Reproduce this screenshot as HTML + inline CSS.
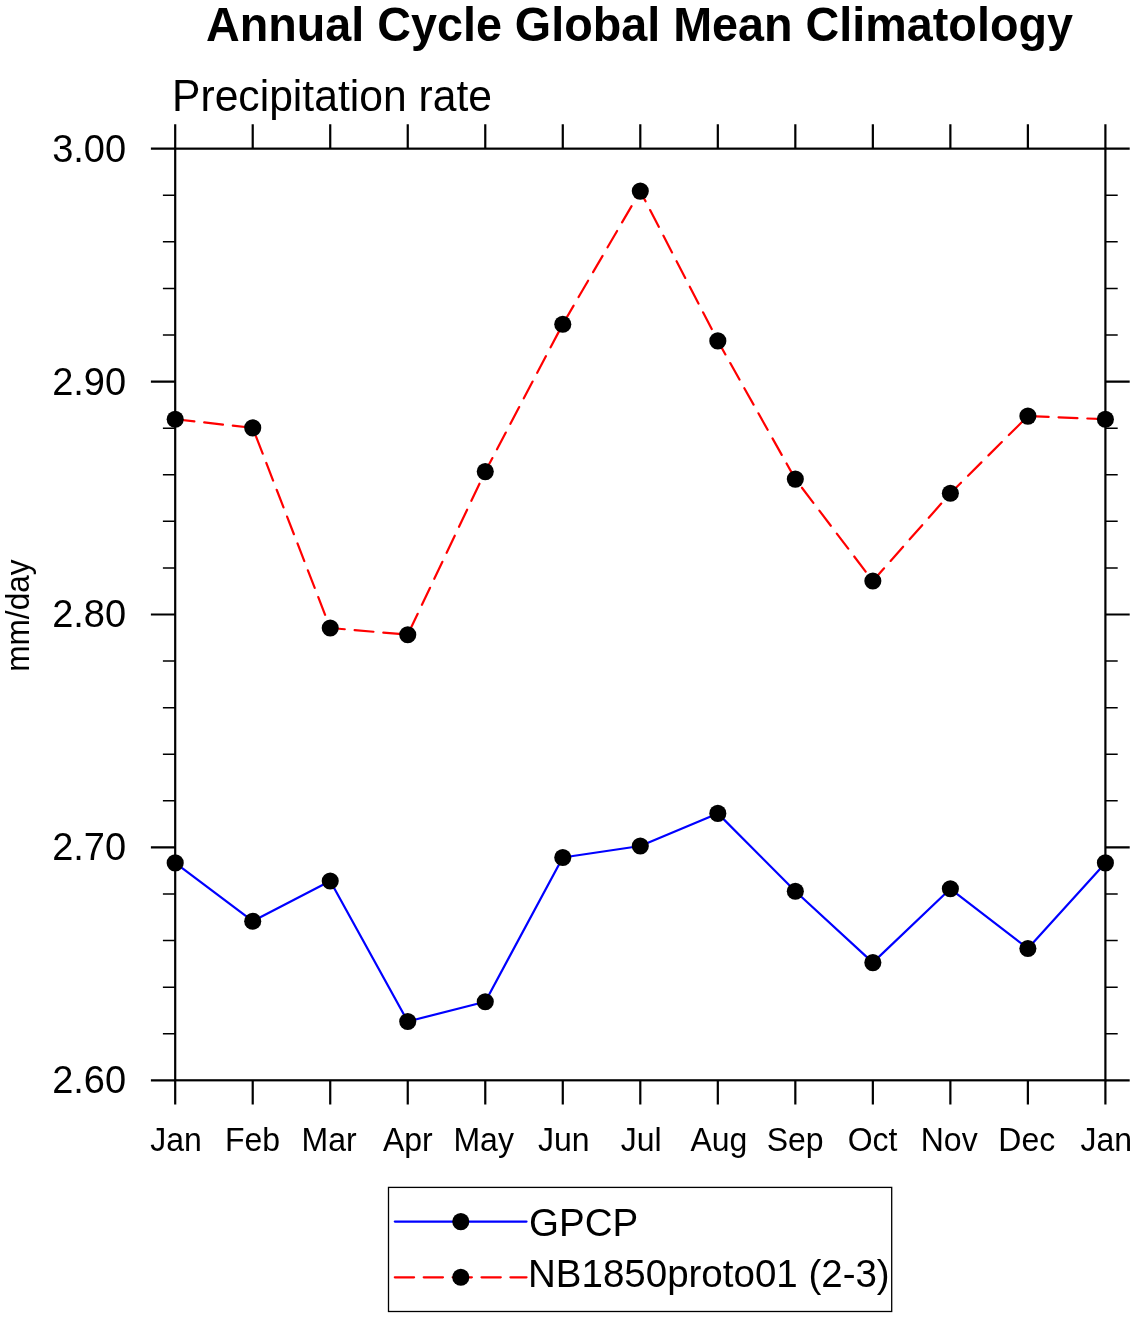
<!DOCTYPE html><html><head><meta charset="utf-8"><style>html,body{margin:0;padding:0;background:#fff;}svg{display:block;will-change:transform;}text{font-family:"Liberation Sans",sans-serif;fill:#000;}</style></head><body>
<svg width="1135" height="1318" viewBox="0 0 1135 1318">
<rect width="1135" height="1318" fill="#fff"/>
<path d="M175.20 148.65V124.35M175.20 1080.30V1104.60M252.72 148.65V124.35M252.72 1080.30V1104.60M330.23 148.65V124.35M330.23 1080.30V1104.60M407.75 148.65V124.35M407.75 1080.30V1104.60M485.27 148.65V124.35M485.27 1080.30V1104.60M562.78 148.65V124.35M562.78 1080.30V1104.60M640.30 148.65V124.35M640.30 1080.30V1104.60M717.82 148.65V124.35M717.82 1080.30V1104.60M795.33 148.65V124.35M795.33 1080.30V1104.60M872.85 148.65V124.35M872.85 1080.30V1104.60M950.37 148.65V124.35M950.37 1080.30V1104.60M1027.88 148.65V124.35M1027.88 1080.30V1104.60M1105.40 148.65V124.35M1105.40 1080.30V1104.60M175.20 148.65H150.90M1105.40 148.65H1129.70M175.20 381.56H150.90M1105.40 381.56H1129.70M175.20 614.48H150.90M1105.40 614.48H1129.70M175.20 847.39H150.90M1105.40 847.39H1129.70M175.20 1080.30H150.90M1105.40 1080.30H1129.70" stroke="#000" stroke-width="2.2" fill="none"/>
<path d="M175.20 195.23H162.90M1105.40 195.23H1117.70M175.20 241.81H162.90M1105.40 241.81H1117.70M175.20 288.40H162.90M1105.40 288.40H1117.70M175.20 334.98H162.90M1105.40 334.98H1117.70M175.20 428.14H162.90M1105.40 428.14H1117.70M175.20 474.73H162.90M1105.40 474.73H1117.70M175.20 521.31H162.90M1105.40 521.31H1117.70M175.20 567.89H162.90M1105.40 567.89H1117.70M175.20 661.06H162.90M1105.40 661.06H1117.70M175.20 707.64H162.90M1105.40 707.64H1117.70M175.20 754.22H162.90M1105.40 754.22H1117.70M175.20 800.80H162.90M1105.40 800.80H1117.70M175.20 893.97H162.90M1105.40 893.97H1117.70M175.20 940.55H162.90M1105.40 940.55H1117.70M175.20 987.13H162.90M1105.40 987.13H1117.70M175.20 1033.72H162.90M1105.40 1033.72H1117.70" stroke="#000" stroke-width="1.5" fill="none"/>
<rect x="175.20" y="148.65" width="930.20" height="931.65" stroke="#000" stroke-width="2.2" fill="none"/>
<polyline points="175.20,862.90 252.72,921.20 330.23,881.00 407.75,1021.50 485.27,1001.70 562.78,857.50 640.30,846.00 717.82,813.40 795.33,891.30 872.85,962.60 950.37,888.80 1027.88,948.50 1105.40,862.90" stroke="#0000ff" stroke-width="2.2" fill="none" stroke-linejoin="round" stroke-linecap="round"/>
<polyline points="175.20,419.20 252.72,427.90 330.23,628.00 407.75,634.70 485.27,471.60 562.78,324.20 640.30,191.10 717.82,340.90 795.33,479.10 872.85,581.00 950.37,493.30 1027.88,416.10 1105.40,419.20" stroke="#ff0000" stroke-width="2.2" fill="none" stroke-dasharray="18.9 9.89" stroke-dashoffset="-0.4" stroke-linejoin="round" stroke-linecap="round"/>
<circle cx="175.20" cy="862.90" r="8.55"/>
<circle cx="252.72" cy="921.20" r="8.55"/>
<circle cx="330.23" cy="881.00" r="8.55"/>
<circle cx="407.75" cy="1021.50" r="8.55"/>
<circle cx="485.27" cy="1001.70" r="8.55"/>
<circle cx="562.78" cy="857.50" r="8.55"/>
<circle cx="640.30" cy="846.00" r="8.55"/>
<circle cx="717.82" cy="813.40" r="8.55"/>
<circle cx="795.33" cy="891.30" r="8.55"/>
<circle cx="872.85" cy="962.60" r="8.55"/>
<circle cx="950.37" cy="888.80" r="8.55"/>
<circle cx="1027.88" cy="948.50" r="8.55"/>
<circle cx="1105.40" cy="862.90" r="8.55"/>
<circle cx="175.20" cy="419.20" r="8.55"/>
<circle cx="252.72" cy="427.90" r="8.55"/>
<circle cx="330.23" cy="628.00" r="8.55"/>
<circle cx="407.75" cy="634.70" r="8.55"/>
<circle cx="485.27" cy="471.60" r="8.55"/>
<circle cx="562.78" cy="324.20" r="8.55"/>
<circle cx="640.30" cy="191.10" r="8.55"/>
<circle cx="717.82" cy="340.90" r="8.55"/>
<circle cx="795.33" cy="479.10" r="8.55"/>
<circle cx="872.85" cy="581.00" r="8.55"/>
<circle cx="950.37" cy="493.30" r="8.55"/>
<circle cx="1027.88" cy="416.10" r="8.55"/>
<circle cx="1105.40" cy="419.20" r="8.55"/>
<text x="639.45" y="40.7" text-anchor="middle" font-weight="bold" font-size="48.5" textLength="867" lengthAdjust="spacingAndGlyphs">Annual Cycle Global Mean Climatology</text>
<text x="172" y="110.7" font-size="44" textLength="320" lengthAdjust="spacingAndGlyphs">Precipitation rate</text>
<text transform="translate(126.1 161.65)" text-anchor="end" font-size="38">3.00</text>
<text transform="translate(126.1 394.56)" text-anchor="end" font-size="38">2.90</text>
<text transform="translate(126.1 627.48)" text-anchor="end" font-size="38">2.80</text>
<text transform="translate(126.1 860.39)" text-anchor="end" font-size="38">2.70</text>
<text transform="translate(126.1 1093.30)" text-anchor="end" font-size="38">2.60</text>
<text transform="translate(176.05 1150.9) scale(0.97 1)" text-anchor="middle" font-size="33">Jan</text>
<text transform="translate(252.49 1150.9) scale(0.97 1)" text-anchor="middle" font-size="33">Feb</text>
<text transform="translate(329.11 1150.9) scale(0.97 1)" text-anchor="middle" font-size="33">Mar</text>
<text transform="translate(407.80 1150.9) scale(0.97 1)" text-anchor="middle" font-size="33">Apr</text>
<text transform="translate(483.69 1150.9) scale(0.97 1)" text-anchor="middle" font-size="33">May</text>
<text transform="translate(563.71 1150.9) scale(0.97 1)" text-anchor="middle" font-size="33">Jun</text>
<text transform="translate(641.10 1150.9) scale(0.97 1)" text-anchor="middle" font-size="33">Jul</text>
<text transform="translate(718.89 1150.9) scale(0.97 1)" text-anchor="middle" font-size="33">Aug</text>
<text transform="translate(795.11 1150.9) scale(0.97 1)" text-anchor="middle" font-size="33">Sep</text>
<text transform="translate(872.55 1150.9) scale(0.97 1)" text-anchor="middle" font-size="33">Oct</text>
<text transform="translate(949.19 1150.9) scale(0.97 1)" text-anchor="middle" font-size="33">Nov</text>
<text transform="translate(1026.81 1150.9) scale(0.97 1)" text-anchor="middle" font-size="33">Dec</text>
<text transform="translate(1106.30 1150.9) scale(0.97 1)" text-anchor="middle" font-size="33">Jan</text>
<text transform="translate(29.1 615.6) rotate(-90) scale(0.958 1)" text-anchor="middle" font-size="33">mm/day</text>
<rect x="388.5" y="1187.4" width="503.2" height="124.1" stroke="#000" stroke-width="1.3" fill="none"/>
<path d="M394.85 1221.6H526.5" stroke="#0000ff" stroke-width="2.3" stroke-linecap="round"/>
<path d="M394.85 1277.3H526.5" stroke="#ff0000" stroke-width="2.3" stroke-dasharray="19.2 9.7" stroke-linecap="round"/>
<circle cx="460.8" cy="1221.6" r="8.55"/><circle cx="460.8" cy="1277.3" r="8.55"/>
<text x="529" y="1235.6" font-size="38.5">GPCP</text>
<text x="528" y="1287.2" font-size="38.5">NB1850proto01 (2-3)</text>
</svg></body></html>
